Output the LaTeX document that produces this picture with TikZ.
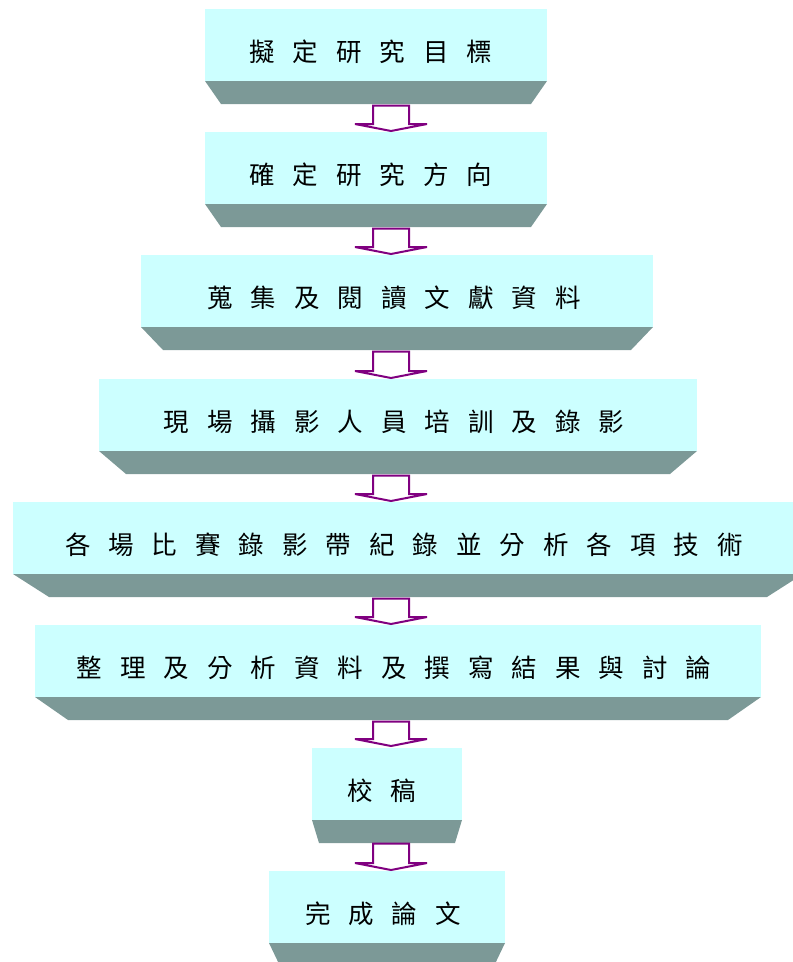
\documentclass[tikz,border=0pt]{standalone}
\usepackage{fontspec}
\newfontfamily\cjk{Noto Sans CJK TC}
\usetikzlibrary{calc}
\definecolor{boxcyan}{RGB}{204,255,255}
\definecolor{boxshadecol}{RGB}{124,153,151}
\definecolor{arrpurple}{RGB}{128,0,128}
\newcommand\gp{\hspace{18pt}}
\newcommand\bevel[2]{\fill[shade3d] (#1.south west) -- (#1.south east) -- ([xshift=-#2pt,yshift=-23pt]#1.south east) -- ([xshift=#2pt,yshift=-23pt]#1.south west) -- cycle;}
\newcommand\flowarr[2]{\draw[flowarrow] ([xshift=-18pt]#1) -- ([xshift=-18pt,yshift=7pt]#2) -- ([xshift=-36pt,yshift=7pt]#2) -- (#2) -- ([xshift=36pt,yshift=7pt]#2) -- ([xshift=18pt,yshift=7pt]#2) -- ([xshift=18pt]#1) -- cycle;}
\tikzset{
  stepbox/.style={fill=boxcyan, draw=none, minimum height=72pt, inner sep=0pt, outer sep=0pt},
  shade3d/.style={fill=boxshadecol, draw=none},
  lbl/.style={font=\cjk\fontsize{25.5}{25.5}\selectfont, inner sep=0pt, text=black},
  flowarrow/.style={draw=arrpurple, line width=2pt, fill=white, line join=miter},
}
\begin{document}
\begin{tikzpicture}[x=1pt,y=-1pt]
\useasboundingbox (0,0) rectangle (793,962);
% boxes
\node[stepbox, minimum width=342pt] (b1) at (376,45) {};
\node[stepbox, minimum width=342pt] (b2) at (376,168) {};
\node[stepbox, minimum width=512pt] (b3) at (397,291) {};
\node[stepbox, minimum width=598pt] (b4) at (398,415) {};
\node[stepbox, minimum width=790pt] (b5) at (408,538) {};
\node[stepbox, minimum width=726pt] (b6) at (398,661) {};
\node[stepbox, minimum width=150pt] (b7) at (387,784) {};
\node[stepbox, minimum width=236pt] (b8) at (387,907) {};
% bevels
\bevel{b1}{16}
\bevel{b2}{16}
\bevel{b3}{22}
\bevel{b4}{27}
\bevel{b5}{36}
\bevel{b6}{33}
\bevel{b7}{7}
\bevel{b8}{11}
% labels
\node[lbl] (t1) at ([xshift=-5pt,yshift=-7pt]b1.center) {擬\gp 定\gp 研\gp 究\gp 目\gp 標};
\node[lbl] (t2) at ([xshift=-5pt,yshift=-7pt]b2.center) {確\gp 定\gp 研\gp 究\gp 方\gp 向};
\node[lbl] (t3) at ([xshift=-3pt,yshift=-7pt]b3.center) {蒐\gp 集\gp 及\gp 閱\gp 讀\gp 文\gp 獻\gp 資\gp 料};
\node[lbl] (t4) at ([xshift=-4pt,yshift=-7pt]b4.center) {現\gp 場\gp 攝\gp 影\gp 人\gp 員\gp 培\gp 訓\gp 及\gp 錄\gp 影};
\node[lbl] (t5) at ([xshift=-4pt,yshift=-7pt]b5.center) {各\gp 場\gp 比\gp 賽\gp 錄\gp 影\gp 帶\gp 紀\gp 錄\gp 並\gp 分\gp 析\gp 各\gp 項\gp 技\gp 術};
\node[lbl] (t6) at ([xshift=-4pt,yshift=-7pt]b6.center) {整\gp 理\gp 及\gp 分\gp 析\gp 資\gp 料\gp 及\gp 撰\gp 寫\gp 結\gp 果\gp 與\gp 討\gp 論};
\node[lbl] (t7) at ([xshift=-5pt,yshift=-7pt]b7.center) {校\gp 稿};
\node[lbl] (t8) at ([xshift=-4pt,yshift=-7pt]b8.center) {完\gp 成\gp 論\gp 文};
% arrows
\coordinate (s1) at (391,105.5); \coordinate (e1) at (391,131);
\coordinate (s2) at (391,228.5); \coordinate (e2) at (391,254);
\coordinate (s3) at (391,351.5); \coordinate (e3) at (391,378);
\coordinate (s4) at (391,475.5); \coordinate (e4) at (391,501);
\coordinate (s5) at (391,598.5); \coordinate (e5) at (391,624);
\coordinate (s6) at (391,721.5); \coordinate (e6) at (391,746);
\coordinate (s7) at (391,843.5); \coordinate (e7) at (391,870);
\flowarr{s1}{e1}
\flowarr{s2}{e2}
\flowarr{s3}{e3}
\flowarr{s4}{e4}
\flowarr{s5}{e5}
\flowarr{s6}{e6}
\flowarr{s7}{e7}
\end{tikzpicture}
\end{document}
